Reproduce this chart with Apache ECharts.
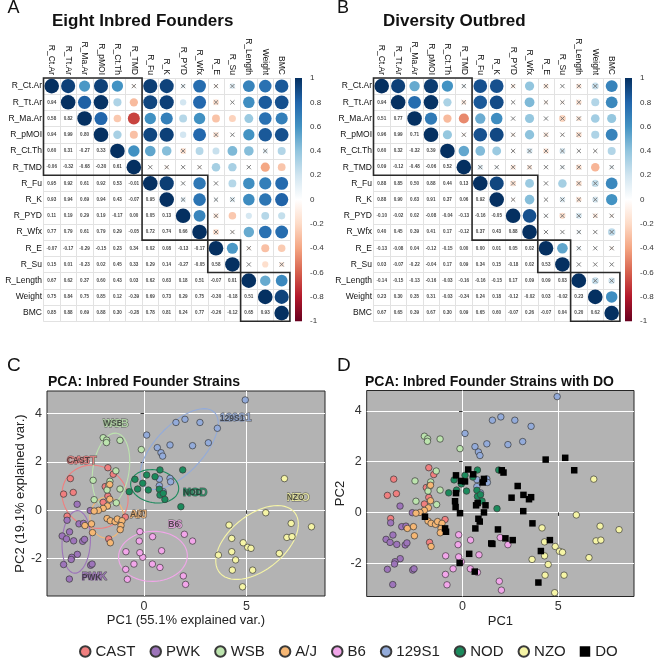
<!DOCTYPE html>
<html>
<head>
<meta charset="utf-8">
<script src="https://cdn.jsdelivr.net/npm/echarts@6/dist/echarts.min.js"></script>
<style>
  html, body { margin: 0; padding: 0; background: #fff; }
  #main { width: 661px; height: 661px; }
</style>
</head>
<body>
<div id="main"></div>
<script>
// ---- correlation matrices (lower triangle, row i = r with vars 0..i-1) ----
const vars = ['R_Ct.Ar', 'R_Tt.Ar', 'R_Ma.Ar', 'R_pMOI', 'R_Ct.Th', 'R_TMD', 'R_Fu', 'R_K',
  'R_PYD', 'R_Wfx', 'R_E', 'R_Su', 'R_Length', 'Weight', 'BMC'];

const corFounders = [
  [],
  [0.94],
  [0.58, 0.82],
  [0.94, 0.99, 0.80],
  [0.60, 0.31, -0.27, 0.33],
  [-0.06, -0.32, -0.68, -0.30, 0.61],
  [0.95, 0.92, 0.61, 0.92, 0.53, -0.01],
  [0.93, 0.94, 0.69, 0.94, 0.43, -0.07, 0.95],
  [0.11, 0.19, 0.29, 0.19, -0.17, 0.00, 0.05, 0.13],
  [0.77, 0.79, 0.61, 0.79, 0.29, -0.05, 0.72, 0.74, 0.66],
  [-0.07, -0.17, -0.29, -0.15, 0.23, 0.34, 0.02, 0.08, -0.13, -0.17],
  [0.15, 0.01, -0.23, 0.02, 0.45, 0.33, 0.29, 0.14, -0.27, -0.05, 0.58],
  [0.67, 0.62, 0.37, 0.60, 0.43, 0.03, 0.62, 0.63, 0.18, 0.51, -0.07, 0.01],
  [0.75, 0.84, 0.75, 0.85, 0.12, -0.39, 0.69, 0.73, 0.29, 0.75, -0.30, -0.18, 0.51],
  [0.85, 0.88, 0.69, 0.88, 0.30, -0.28, 0.78, 0.81, 0.24, 0.77, -0.26, -0.12, 0.65, 0.93]
];

const corDO = [
  [],
  [0.94],
  [0.51, 0.77],
  [0.96, 0.99, 0.71],
  [0.60, 0.32, -0.32, 0.39],
  [0.09, -0.12, -0.48, -0.06, 0.52],
  [0.88, 0.85, 0.50, 0.88, 0.44, 0.13],
  [0.88, 0.90, 0.63, 0.91, 0.37, 0.06, 0.92],
  [-0.10, -0.02, 0.02, -0.08, -0.04, -0.13, -0.16, -0.05],
  [0.40, 0.45, 0.39, 0.41, 0.17, -0.12, 0.37, 0.43, 0.88],
  [-0.13, -0.08, 0.04, -0.12, -0.15, 0.00, 0.00, 0.01, 0.05, 0.02],
  [0.03, -0.07, -0.22, -0.04, 0.17, 0.09, 0.34, 0.15, -0.18, 0.02, 0.53],
  [-0.14, -0.15, -0.13, -0.16, -0.03, -0.16, -0.16, -0.15, 0.17, 0.09, 0.09, 0.03],
  [0.23, 0.30, 0.35, 0.31, -0.03, -0.34, 0.24, 0.18, -0.12, -0.02, 0.03, -0.02, 0.23],
  [0.67, 0.65, 0.39, 0.67, 0.30, 0.09, 0.65, 0.60, -0.07, 0.26, -0.07, 0.04, 0.20, 0.62]
];

// hclust boxes (first/last variable index)
const clusters = [[0, 5], [6, 9], [10, 11], [12, 14]];
// |r| below the cutoff is marked non-significant (x)
const sigCutFounders = 0.175;
const sigCutDO = 0.285;

// ---- PCA scores ----
const strains = ['CAST', 'PWK', 'WSB', 'A/J', 'B6', '129S1', 'NOD', 'NZO'];

const castPts = [[-1.76, 1.76], [-1.5, 1.49], [-3.59, 1.31], [-3.92, 0.67], [-3.45, 0.74], [-1.89, 0.98],
  [-1.76, 0.59], [-1.99, 0.33], [-3.75, -0.24], [-1.72, -1.18], [-0.91, -0.28]];
const pwkPts = [[-3.26, 0.25], [-3.75, -0.41], [-3.17, -0.56], [-2.95, -0.54], [-2.62, -0.01], [-3.63, -0.89],
  [-3.99, -1.06], [-3.78, -1.18], [-3.43, -1.26], [-2.99, -1.28], [-2.9, -1.2], [-3.25, -1.82],
  [-3.52, -1.94], [-3.55, -2.03], [-3.92, -2.24], [-2.6, -2.27], [-2.53, -2.22], [-3.64, -2.84]];
const wsbPts = [[-1.99, 3.0], [-1.82, 2.9], [-1.83, 2.8], [-1.17, 2.89], [-0.13, 2.51], [-1.37, 1.63],
  [-2.48, 1.24], [-1.66, 1.2], [-1.72, 1.03], [-1.8, 0.84], [-1.17, 0.88], [-2.43, 0.44], [-1.35, 0.31]];
const ajPts = [[-1.67, 1.07], [-1.67, 0.46], [-1.78, 0.18], [-1.99, 0.08], [-2.22, 0.0], [-2.43, -0.03],
  [-1.8, -0.34], [-1.64, -0.43], [-1.41, -0.47], [-1.3, -0.36], [-1.07, -0.43], [-1.12, -0.63],
  [-1.16, -0.8], [-2.56, -0.56], [-2.88, -0.63], [-2.51, -0.92], [-1.64, -1.34]];
const b6Pts = [[-0.2, -0.88], [0.42, -1.09], [1.97, -0.99], [2.37, -1.27], [0.86, -1.67], [-0.06, -1.94],
  [0.41, -2.22], [0.78, -2.36], [1.92, -2.71], [2.03, -3.06], [-0.88, -1.71], [-0.23, -1.27],
  [-0.49, -2.22], [-0.89, -2.44], [-0.81, -2.85], [-0.2, -1.75]];
const s129Pts = [[4.94, 4.56], [1.56, 3.63], [2.0, 3.76], [2.73, 3.63], [3.58, 3.39], [0.13, 3.11],
  [2.37, 2.67], [3.14, 2.79], [1.27, 2.70], [0.65, 2.59], [0.83, 2.38], [0.91, 2.24], [0.75, 1.29],
  [0.75, 1.02], [1.27, 1.32], [1.3, 1.18], [0.94, 0.77]];
const nodPts = [[-0.44, 1.28], [0.13, 1.46], [0.54, 1.39], [0.78, 1.67], [1.89, 1.67], [-0.06, 1.12],
  [-0.31, 0.88], [-0.72, 0.77], [0.21, 0.84], [0.75, 0.87], [0.78, 0.63], [0.94, 0.7], [1.02, 0.45],
  [1.8, 0.15]];
const nzoPts = [[4.15, -0.61], [4.28, -1.16], [4.84, -1.34], [5.06, -1.53], [5.22, -1.57], [4.28, -1.71],
  [3.63, -1.85], [4.47, -2.05], [4.31, -2.47], [5.3, -2.47], [4.81, -3.16], [5.94, -0.1], [7.18, -0.54],
  [8.17, -0.68], [6.97, -1.12], [7.22, -1.09], [6.6, -1.78], [6.85, 1.31]];
const doPts = [[-0.34, 1.46], [-0.08, 1.24], [0.13, 1.22], [0.3, 1.69], [0.56, 1.5], [1.12, 1.32],
  [1.05, 1.18], [-0.34, 0.76], [-0.39, 0.44], [-0.36, 0.21], [-0.13, -0.03], [0.71, 0.28], [0.79, 0.37],
  [1.2, 0.28], [1.12, 0.0], [0.83, -0.25], [0.9, -0.36], [-1.96, -0.17], [-0.91, -0.63], [-0.86, -0.76],
  [0.67, -0.63], [1.5, -1.22], [1.56, -1.24], [0.35, -1.63], [-0.15, -1.99], [0.64, -2.33], [4.34, 2.08],
  [5.36, 2.15], [5.83, 1.66], [2.05, 1.66], [2.14, 1.57], [2.88, 1.04], [3.18, 0.69], [3.58, 0.6],
  [3.47, 0.52], [2.56, 0.58], [3.17, 0.05], [3.65, -0.43], [1.85, -0.67], [2.24, -1.02], [2.62, -1.09],
  [4.56, -1.09], [4.09, -1.52], [3.96, -2.76]];

const strainPts = [castPts, pwkPts, wsbPts, ajPts, b6Pts, s129Pts, nodPts, nzoPts];
// where the strain names sit in panel C (left end of text)
const groupLabelXY = [[-3.77, 2.05], [-3.04, -2.77], [-2.0, 3.57], [-0.68, -0.19], [1.19, -0.61],
  [3.7, 3.8], [1.9, 0.73], [6.96, 0.52]];
const pcaXTicks = [0, 5];
const pcaYTicks = [-2, 0, 2, 4];

// ---- styles ----
const FONT = 'Liberation Sans, Arial, sans-serif';
const corrColors = ['#67001F', '#B2182B', '#D6604D', '#F4A582', '#FDDBC7', '#FFFFFF',
  '#D1E5F0', '#92C5DE', '#4393C3', '#2166AC', '#053061'];
const strainColors = ['#F07F7F', '#9D74BA', '#BCE4AE', '#F6B774', '#F2A6EA', '#93ABDA', '#1B8A5C', '#F6F5A6'];

const chart = echarts.init(document.getElementById('main'));

function corrData(lower, cut) {
  const circles = [], crosses = [], numbers = [];
  const n = vars.length;
  for (let i = 0; i < n; i++) {
    for (let j = 0; j < n; j++) {
      const r = i === j ? 1 : (i > j ? lower[i][j] : lower[j][i]);
      if (j >= i) {
        circles.push([j, i, r]);
        if (Math.abs(r) < cut) crosses.push([j, i, r]);
      } else {
        numbers.push([j, i, r]);
      }
    }
  }
  return { circles, crosses, numbers };
}

// 68% normal data ellipse, like ggbiplot
function ellipse(pts) {
  const n = pts.length;
  let mx = 0, my = 0;
  pts.forEach(p => { mx += p[0]; my += p[1]; });
  mx /= n; my /= n;
  let sxx = 0, syy = 0, sxy = 0;
  pts.forEach(p => {
    const dx = p[0] - mx, dy = p[1] - my;
    sxx += dx * dx; syy += dy * dy; sxy += dx * dy;
  });
  sxx /= n - 1; syy /= n - 1; sxy /= n - 1;
  const a = Math.sqrt(sxx), b = sxy / a, c = Math.sqrt(syy - b * b);
  const ed = Math.sqrt(-2 * Math.log(1 - 0.68));
  const out = [];
  for (let k = 0; k <= 120; k++) {
    const t = 2 * Math.PI * k / 120, u = Math.cos(t), v = Math.sin(t);
    out.push([mx + ed * u * a, my + ed * (u * b + v * c)]);
  }
  return out;
}

const matTop = 78, matW = 246.4, matH = 243.2;
const matLeft = [43.5, 373.5];
const cellD = 14.6;

const grids = [], xAxes = [], yAxes = [], series = [], graphics = [];

[corFounders, corDO].forEach((cor, k) => {
  const d = corrData(cor, k === 0 ? sigCutFounders : sigCutDO);
  grids.push({ left: matLeft[k], top: matTop, width: matW, height: matH, outerBoundsMode: 'none' });
  xAxes.push({
    type: 'category', gridIndex: k, data: vars, position: 'top',
    axisLine: { show: true, lineStyle: { color: '#e2e2e2', width: 1 } },
    axisTick: { show: false },
    axisLabel: { interval: 0, rotate: 90, fontSize: 8.5, color: '#111', margin: 3, fontFamily: FONT },
    splitLine: { show: true, interval: 0, lineStyle: { color: '#e2e2e2', width: 1 } }
  });
  yAxes.push({
    type: 'category', gridIndex: k, data: vars, inverse: true,
    axisLine: { show: true, lineStyle: { color: '#e2e2e2', width: 1 } },
    axisTick: { show: false },
    axisLabel: { interval: 0, fontSize: 8.5, color: '#111', margin: 1.5, fontFamily: FONT },
    splitLine: { show: true, interval: 0, lineStyle: { color: '#e2e2e2', width: 1 } }
  });
  series.push({
    type: 'scatter', xAxisIndex: k, yAxisIndex: k, data: d.circles, silent: true, z: 2,
    symbolSize: v => cellD * Math.sqrt(Math.abs(v[2])),
    itemStyle: { opacity: 1 }
  });
  series.push({
    type: 'scatter', xAxisIndex: k, yAxisIndex: k, data: d.crosses, silent: true, z: 3,
    symbol: 'path://M0,0L10,10M10,0L0,10', symbolSize: 4.2,
    itemStyle: { color: 'none', borderColor: '#707070', borderWidth: 0.9, opacity: 1 }
  });
  series.push({
    type: 'scatter', xAxisIndex: k, yAxisIndex: k, data: d.numbers, silent: true, z: 3,
    symbolSize: 0.01, itemStyle: { color: 'transparent' },
    label: {
      show: true, position: 'inside', formatter: p => p.value[2].toFixed(2),
      fontSize: 4.6, fontWeight: 'bold', color: '#111', fontFamily: FONT
    }
  });
  series.push({
    type: 'custom', xAxisIndex: k, yAxisIndex: k, data: clusters, silent: true, z: 4, clip: false,
    renderItem: (params, api) => {
      const s = api.value(0), e = api.value(1);
      const p0 = api.coord([s, s]), p1 = api.coord([e, e]);
      const sz = api.size([1, 1]);
      return {
        type: 'rect',
        shape: { x: p0[0] - sz[0] / 2, y: p0[1] - sz[1] / 2, width: p1[0] - p0[0] + sz[0], height: p1[1] - p0[1] + sz[1] },
        style: { fill: 'none', stroke: '#2a2a2a', lineWidth: 1.6 }
      };
    }
  });
});

// colour bars (grid 2 and 3) with their tick labels
[0, 1].forEach(k => {
  const left = matLeft[k] + 251.5;
  grids.push({ left: left, top: matTop, width: 7, height: matH, outerBoundsMode: 'none' });
  xAxes.push({ type: 'value', gridIndex: 2 + k, show: false });
  yAxes.push({
    type: 'value', gridIndex: 2 + k, min: -1, max: 1, interval: 0.2, position: 'right',
    axisLine: { show: false }, axisTick: { show: false }, splitLine: { show: false },
    axisLabel: { fontSize: 8, color: '#333', margin: 8, fontFamily: FONT }
  });
  graphics.push({
    type: 'rect', silent: true,
    shape: { x: left, y: matTop, width: 7, height: matH },
    style: {
      fill: new echarts.graphic.LinearGradient(0, 0, 0, 1,
        corrColors.slice().reverse().map((c, i, a) => ({ offset: i / (a.length - 1), color: c })))
    }
  });
});

// PCA panels: grid 4 (C) and grid 5 (D)
const pcaGrids = [
  { left: 47, top: 391, width: 278, height: 205, xr: [-4.73, 8.83], yr: [-3.54, 4.93],
    xName: 'PC1 (55.1% explained var.)', yName: 'PC2 (19.1% explained var.)' },
  { left: 366.7, top: 390.5, width: 267.3, height: 206, xr: [-5.0, 8.95], yr: [-3.31, 4.8],
    xName: 'PC1', yName: 'PC2' }
];
pcaGrids.forEach((g, k) => {
  const gi = 4 + k;
  grids.push({
    left: g.left, top: g.top, width: g.width, height: g.height, show: true,
    backgroundColor: '#b3b3b3', borderColor: '#262626', borderWidth: 1, outerBoundsMode: 'none'
  });
  const tick = { show: true, length: 3.5, lineStyle: { color: '#333', width: 1 } };
  xAxes.push({
    type: 'value', gridIndex: gi, min: g.xr[0], max: g.xr[1],
    axisLine: { show: false },
    axisTick: Object.assign({ customValues: pcaXTicks }, tick),
    axisLabel: { customValues: pcaXTicks, fontSize: 12.5, color: '#333', margin: 4, fontFamily: FONT },
    splitLine: { show: true, lineStyle: { color: '#ffffff', width: 1 } },
    name: g.xName, nameLocation: 'middle', nameGap: 18,
    nameTextStyle: { fontSize: 13, color: '#222', fontFamily: FONT }
  });
  yAxes.push({
    type: 'value', gridIndex: gi, min: g.yr[0], max: g.yr[1],
    axisLine: { show: false },
    axisTick: Object.assign({ customValues: pcaYTicks }, tick),
    axisLabel: { customValues: pcaYTicks, fontSize: 12.5, color: '#333', margin: 5, fontFamily: FONT },
    splitLine: { show: true, lineStyle: { color: '#ffffff', width: 1 } },
    name: g.yName, nameLocation: 'middle', nameGap: 19, nameRotate: 90,
    nameTextStyle: { fontSize: 13, color: '#222', fontFamily: FONT }
  });
});

// panel C: ellipses, points, group names
strainPts.forEach((pts, i) => {
  series.push({
    type: 'line', xAxisIndex: 4, yAxisIndex: 4, data: ellipse(pts), showSymbol: false,
    silent: true, z: 2, lineStyle: { color: strainColors[i], width: 1.1 }
  });
});
[4, 5].forEach(gi => {
  strainPts.forEach((pts, i) => {
    series.push({
      type: 'scatter', name: strains[i], xAxisIndex: gi, yAxisIndex: gi, data: pts, z: 3,
      symbol: 'circle', symbolSize: 6.5, silent: true,
      itemStyle: { color: strainColors[i], borderColor: '#3a3a3a', borderWidth: 0.7, opacity: 1 }
    });
  });
});
series.push({
  type: 'scatter', name: 'DO', xAxisIndex: 5, yAxisIndex: 5, data: doPts, z: 4,
  symbol: 'rect', symbolSize: 6.5, silent: true,
  itemStyle: { color: '#000', opacity: 1 }
});
series.push({
  type: 'scatter', xAxisIndex: 4, yAxisIndex: 4, silent: true, z: 5, symbolSize: 0.01,
  itemStyle: { color: 'transparent' },
  data: groupLabelXY.map((p, i) => ({ value: p, label: { color: strainColors[i] } })),
  label: {
    show: true, position: 'right', distance: 0, formatter: p => strains[p.dataIndex],
    fontSize: 11, fontWeight: 'bold', fontFamily: FONT, textBorderColor: '#4a4a4a', textBorderWidth: 1
  }
});
series.push({
  type: 'scatter', xAxisIndex: 4, yAxisIndex: 4, silent: true, z: 6, symbolSize: 0.01,
  itemStyle: { color: 'transparent' },
  data: groupLabelXY.map((p, i) => ({ value: p, label: { textBorderColor: strainColors[i] } })),
  label: {
    show: true, position: 'right', distance: 0, formatter: p => strains[p.dataIndex],
    fontSize: 8.5, fontWeight: 'bold', fontFamily: FONT, color: '#2e2e2e', textBorderWidth: 0.8
  }
});

// panel letters and titles
const txt = (s, x, y, size, weight) => ({
  type: 'text', x: x, y: y, silent: true,
  style: { text: s, fontSize: size, fontWeight: weight, fontFamily: FONT, fill: '#111', align: 'left', verticalAlign: 'middle' }
});
graphics.push(
  txt('A', 7.5, 8, 18, 'normal'),
  txt('Eight Inbred Founders', 52, 21.5, 17, 'bold'),
  txt('B', 337, 8, 18, 'normal'),
  txt('Diversity Outbred', 383, 21.5, 17, 'bold'),
  txt('C', 7, 365.5, 19, 'normal'),
  txt('PCA: Inbred Founder Strains', 48, 382, 14, 'bold'),
  txt('D', 337, 365.5, 19, 'normal'),
  txt('PCA: Inbred Founder Strains with DO', 365, 382, 14, 'bold')
);

chart.setOption({
  animation: false,
  backgroundColor: '#ffffff',
  grid: grids,
  xAxis: xAxes,
  yAxis: yAxes,
  visualMap: {
    type: 'continuous', show: false, min: -1, max: 1, dimension: 2, seriesIndex: [0, 4],
    inRange: { color: corrColors }
  },
  legend: {
    data: strains.concat(['DO']), left: 74, top: 639, itemWidth: 10.5, itemHeight: 10.5, itemGap: 14,
    textStyle: { fontSize: 15, color: '#222', fontFamily: FONT }, selectedMode: false
  },
  graphic: graphics,
  series: series
});
</script>
</body>
</html>
